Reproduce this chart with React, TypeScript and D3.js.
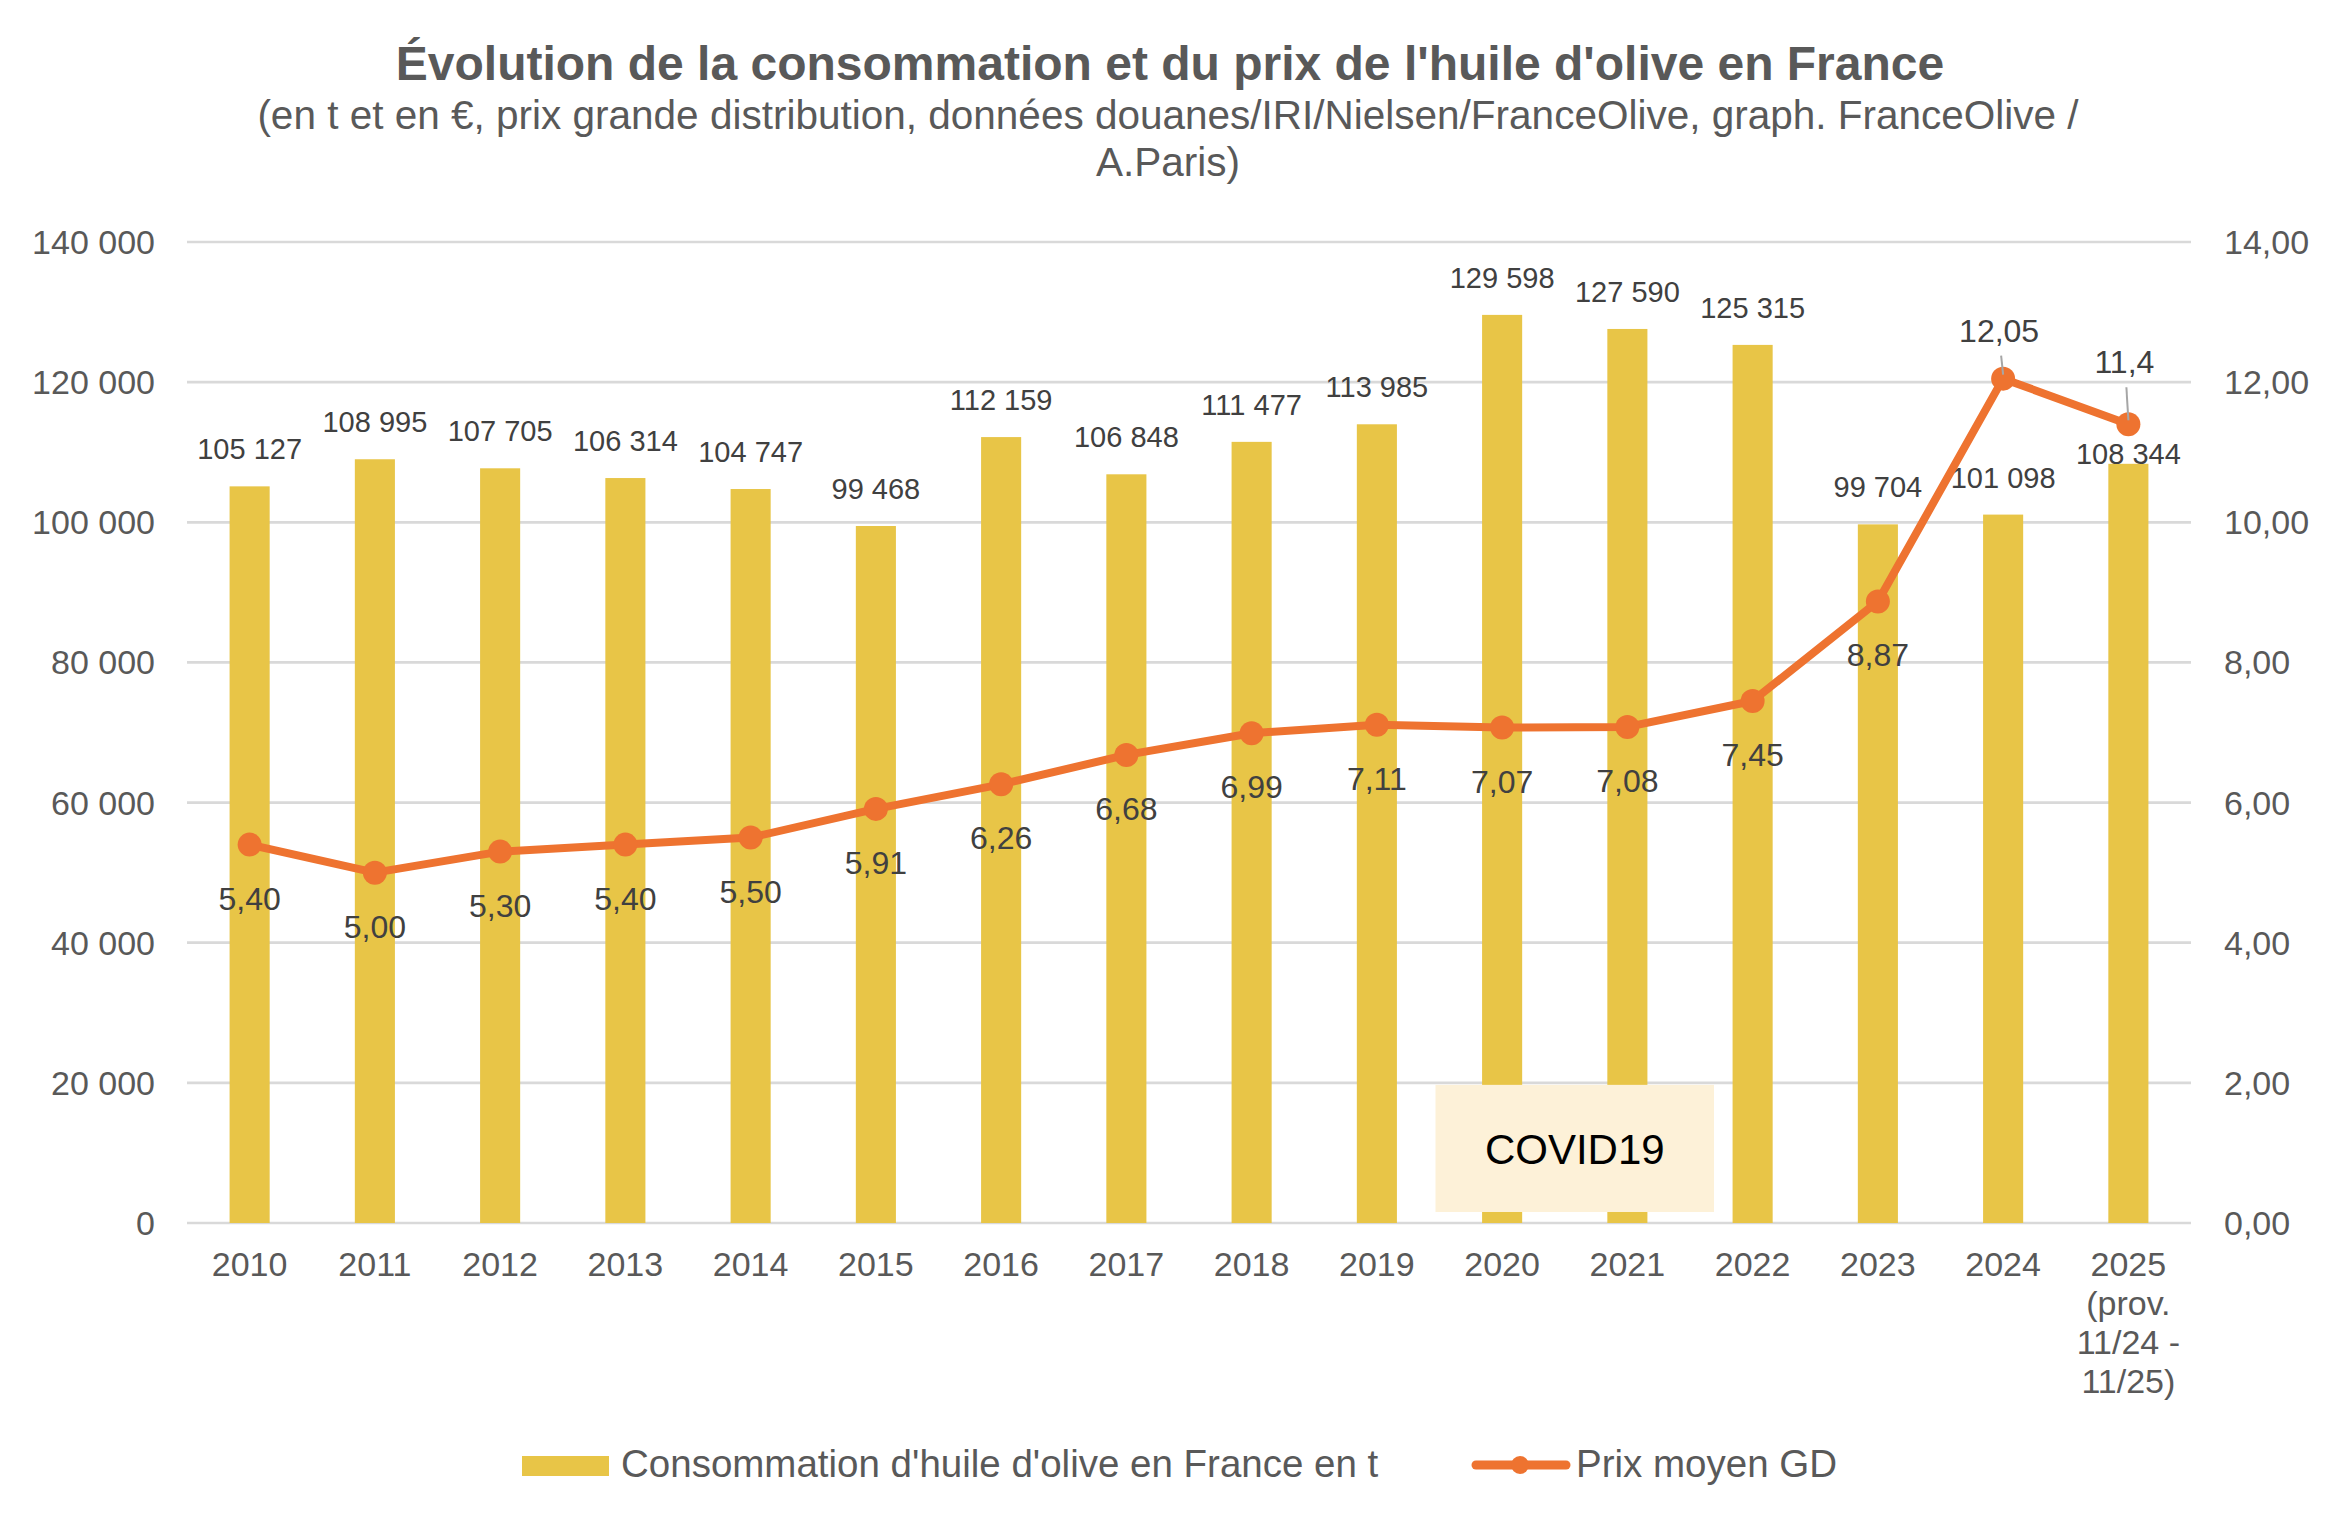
import * as d3 from "d3";

const years = ["2010", "2011", "2012", "2013", "2014", "2015", "2016", "2017", "2018", "2019", "2020", "2021", "2022", "2023", "2024", "2025"];
const yearLabels = [["2010"], ["2011"], ["2012"], ["2013"], ["2014"], ["2015"], ["2016"], ["2017"], ["2018"], ["2019"], ["2020"], ["2021"], ["2022"], ["2023"], ["2024"], ["2025", "(prov.", "11/24 -", "11/25)"]];
const consumption = [105127, 108995, 107705, 106314, 104747, 99468, 112159, 106848, 111477, 113985, 129598, 127590, 125315, 99704, 101098, 108344];
const price = [5.4, 5.0, 5.3, 5.4, 5.5, 5.91, 6.26, 6.68, 6.99, 7.11, 7.07, 7.08, 7.45, 8.87, 12.05, 11.4];
const priceLabels = ["5,40", "5,00", "5,30", "5,40", "5,50", "5,91", "6,26", "6,68", "6,99", "7,11", "7,07", "7,08", "7,45", "8,87", "12,05", "11,4"];
const leftTicks = [0, 20000, 40000, 60000, 80000, 100000, 120000, 140000];
const rightTicks = [0, 2, 4, 6, 8, 10, 12, 14];

const title = "Évolution de la consommation et du prix de l'huile d'olive en France";
const subtitle = [
  "(en t et en €, prix grande distribution, données douanes/IRI/Nielsen/FranceOlive, graph. FranceOlive /",
  "A.Paris)",
];
const barName = "Consommation d'huile d'olive en France en t";
const lineName = "Prix moyen GD";

const W = 2346;
const H = 1535;
const FONT = "'Liberation Sans', Arial, sans-serif";
const GREY = "#595959";
const BAR = "#E8C547";
const LINE = "#EE7330";

const fr = d3.formatLocale({ decimal: ",", thousands: " ", grouping: [3], currency: ["", " €"] });
const fmtInt = fr.format(",d");
const fmt2 = fr.format(".2f");

export default function App() {
  const x = d3.scaleBand<string>().domain(years).range([187, 2191]).padding(0);
  const yL = d3.scaleLinear().domain([0, 140000]).range([1223, 242]);
  const yR = d3.scaleLinear().domain([0, 14]).range([1223, 242]);
  const bw = x.bandwidth() * 0.32;
  const cx = (y: string) => (x(y) ?? 0) + x.bandwidth() / 2;

  const line = d3
    .line<number>()
    .x((_, i) => cx(years[i]))
    .y((d) => yR(d));

  // covid text box, between 2020 and 2022
  const boxL = (x("2020") ?? 0) - 4;
  const boxR = (x("2022") ?? 0) + 24;

  return (
    <svg width={W} height={H} style={{ position: "fixed", left: 0, top: 0, background: "#fff" }} fontFamily={FONT}>
      <rect width={W} height={H} fill="#fff" />
      <text x={1170} y={80} textAnchor="middle" fontWeight="bold" fontSize={48} fill={GREY}>
        {title}
      </text>
      {subtitle.map((s, i) => (
        <text key={i} x={1168} y={129 + i * 47} textAnchor="middle" fontSize={40.5} fill={GREY}>
          {s}
        </text>
      ))}

      {/* grid */}
      {leftTicks.map((t) => (
        <line key={t} x1={187} x2={2191} y1={yL(t)} y2={yL(t)} stroke="#D9D9D9" strokeWidth={2.7} />
      ))}
      {leftTicks.map((t) => (
        <text key={"l" + t} x={155} y={yL(t) + 12} textAnchor="end" fontSize={34} fill={GREY}>
          {fmtInt(t)}
        </text>
      ))}
      {rightTicks.map((t) => (
        <text key={"r" + t} x={2224} y={yR(t) + 12} textAnchor="start" fontSize={34} fill={GREY}>
          {fmt2(t)}
        </text>
      ))}

      {/* bars */}
      {consumption.map((v, i) => (
        <rect key={i} x={cx(years[i]) - bw / 2} y={yL(v)} width={bw} height={yL(0) - yL(v)} fill={BAR} />
      ))}

      {/* covid annotation */}
      <rect x={boxL} y={yL(20000) + 2} width={boxR - boxL} height={yL(0) - yL(20000) - 13} fill="#FDF1D8" />
      <text x={(boxL + boxR) / 2} y={1164} textAnchor="middle" fontSize={42} fill="#000">
        COVID19
      </text>

      {/* bar labels */}
      {consumption.map((v, i) => (
        <text key={i} x={cx(years[i])} y={i === 15 ? yL(v) : yL(v) - 27} textAnchor="middle" fontSize={29} fill="#404040">
          {fmtInt(v)}
        </text>
      ))}

      {/* x labels */}
      {yearLabels.map((ls, i) =>
        ls.map((l, j) => (
          <text key={i + "-" + j} x={cx(years[i])} y={1276 + j * 39} textAnchor="middle" fontSize={34} fill={GREY}>
            {l}
          </text>
        ))
      )}

      {/* price line */}
      <path d={line(price) ?? ""} fill="none" stroke={LINE} strokeWidth={8} strokeLinejoin="round" />
      {price.map((v, i) => (
        <circle key={i} cx={cx(years[i])} cy={yR(v)} r={12} fill={LINE} />
      ))}
      {price.map((v, i) => {
        const px = cx(years[i]);
        const py = yR(v);
        if (i >= 14) {
          const off = i === 14 ? 37 : 51;
          return (
            <g key={i}>
              <line x1={px - 2} x2={px} y1={py - off + 14} y2={py - 4} stroke="#A6A6A6" strokeWidth={2} />
              <text x={px - 4} y={py - off} textAnchor="middle" fontSize={32} fill="#404040">
                {priceLabels[i]}
              </text>
            </g>
          );
        }
        return (
          <text key={i} x={px} y={py + 65} textAnchor="middle" fontSize={32} fill="#404040">
            {priceLabels[i]}
          </text>
        );
      })}

      {/* legend */}
      <rect x={522} y={1456} width={87} height={20} fill={BAR} />
      <text x={621} y={1477} fontSize={38.5} fill={GREY}>
        {barName}
      </text>
      <line x1={1476} x2={1566} y1={1465} y2={1465} stroke={LINE} strokeWidth={9} strokeLinecap="round" />
      <circle cx={1520} cy={1465} r={9} fill={LINE} />
      <text x={1576} y={1477} fontSize={38.5} fill={GREY}>
        {lineName}
      </text>
    </svg>
  );
}
